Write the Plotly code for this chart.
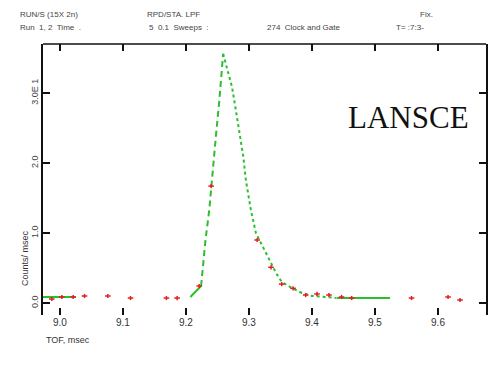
import plotly.graph_objects as go

# ---- data ----
data_x = [8.987, 9.003, 9.021, 9.039, 9.076, 9.112, 9.169, 9.186, 9.221, 9.240,
          9.313, 9.335, 9.352, 9.370, 9.390, 9.408, 9.427, 9.447, 9.463, 9.558,
          9.616, 9.635]
data_y = [0.57, 0.86, 0.86, 1.0, 1.0, 0.71, 0.71, 0.71, 2.43, 16.7,
          9.0, 5.1, 2.7, 2.1, 1.14, 1.29, 1.14, 0.86, 0.71, 0.71,
          0.86, 0.43]
data_err = [0.3] * len(data_x)

base_left_x = [8.973, 9.025]
base_left_y = [0.86, 0.86]
base_right_x = [9.439, 9.524]
base_right_y = [0.71, 0.71]

foot_x = [9.207, 9.224]
foot_y = [0.86, 2.43]
rise_x = [9.224, 9.231, 9.237, 9.242, 9.248, 9.253, 9.257, 9.259]
rise_y = [2.43, 9.0, 13.3, 18.6, 24.3, 29.0, 33.7, 35.6]
fall_x = [9.259, 9.267, 9.273, 9.280, 9.284, 9.291, 9.295, 9.303, 9.311, 9.319,
          9.327, 9.335, 9.343, 9.352, 9.368, 9.384, 9.400, 9.422, 9.438]
fall_y = [35.6, 33.0, 30.9, 27.1, 24.7, 20.9, 17.6, 13.3, 10.0, 8.57,
          7.14, 5.71, 4.29, 3.0, 2.14, 1.43, 1.0, 0.86, 0.71]

x_ticks = [9.0, 9.1, 9.2, 9.3, 9.4, 9.5, 9.6]
x_labels = ["9.0", "9.1", "9.2", "9.3", "9.4", "9.5", "9.6"]
y_ticks = [0, 10, 20, 30]
y_labels = ["0.0", "1.0", "2.0", "3.0E 1"]

GREEN = "#2cbf2c"
RED = "#e02020"

fig = go.Figure()
for xs, ys in [(base_left_x, base_left_y), (base_right_x, base_right_y), (foot_x, foot_y)]:
    fig.add_trace(go.Scatter(x=xs, y=ys, mode="lines",
                             line=dict(color=GREEN, width=2), hoverinfo="skip"))
fig.add_trace(go.Scatter(x=rise_x, y=rise_y, mode="lines",
                         line=dict(color=GREEN, width=2, dash="6px,4px")))
fig.add_trace(go.Scatter(x=fall_x, y=fall_y, mode="lines",
                         line=dict(color=GREEN, width=2, dash="3px,3px")))
fig.add_trace(go.Scatter(x=data_x, y=data_y, mode="markers",
                         marker=dict(symbol="line-ew", size=4,
                                     line=dict(color=RED, width=1.5)),
                         error_y=dict(type="data", array=data_err, color=RED,
                                      thickness=1.5, width=0)))

fig.update_layout(
    width=494, height=372,
    margin=dict(l=43, r=6, t=44, b=57),
    paper_bgcolor="white", plot_bgcolor="white",
    showlegend=False,
    font=dict(family="Liberation Sans, Arial", size=9, color="#333"),
    xaxis=dict(range=[8.9731, 9.6762], tickvals=x_ticks, ticktext=x_labels,
               showline=False, showgrid=False, zeroline=False,
               ticks="inside", ticklen=7, tickwidth=1.5, tickcolor="#111",
               mirror="ticks", tickfont=dict(size=10, color="#333")),
    yaxis=dict(range=[-1.714, 37.0], tickvals=y_ticks, ticktext=y_labels,
               showline=True, linecolor="#111", linewidth=1.5,
               showgrid=False, zeroline=False,
               ticks="inside", ticklen=7, tickwidth=1.5, tickcolor="#111",
               mirror="ticks", tickangle=-90, tickfont=dict(size=9, color="#444")),
)

# top border line
fig.add_shape(type="line", xref="paper", yref="paper", x0=0, x1=1, y0=1, y1=1,
              line=dict(color="#111", width=1.5))

def px_ann(text, x, y, size=8, color="#444", xanchor="left", angle=0, family=None):
    d = dict(text=text, xref="paper", yref="paper",
             x=(x - 43) / 445, y=(315 - y) / 271,
             showarrow=False, xanchor=xanchor, yanchor="middle",
             textangle=angle, font=dict(size=size, color=color))
    if family:
        d["font"]["family"] = family
    fig.add_annotation(**d)

px_ann("RUN/S (15X 2n)", 18, 15)
px_ann("RPD/STA. LPF", 145, 15)
px_ann("Fix.", 420, 15)
px_ann("Run  1, 2  Time  .", 18, 28)
px_ann("5  0.1  Sweeps  :", 147, 28)
px_ann("274  Clock and Gate", 266, 28)
px_ann("T= :7:3-", 396, 28)
px_ann("TOF, msec", 44, 340, size=9, color="#333")
px_ann("Counts/ msec", 25, 258, size=9, color="#333", xanchor="center", angle=-90)
px_ann("LANSCE", 473, 117, size=31, color="#111", xanchor="right",
       family="Liberation Serif, Times New Roman")

fig.write_html("out.html")
